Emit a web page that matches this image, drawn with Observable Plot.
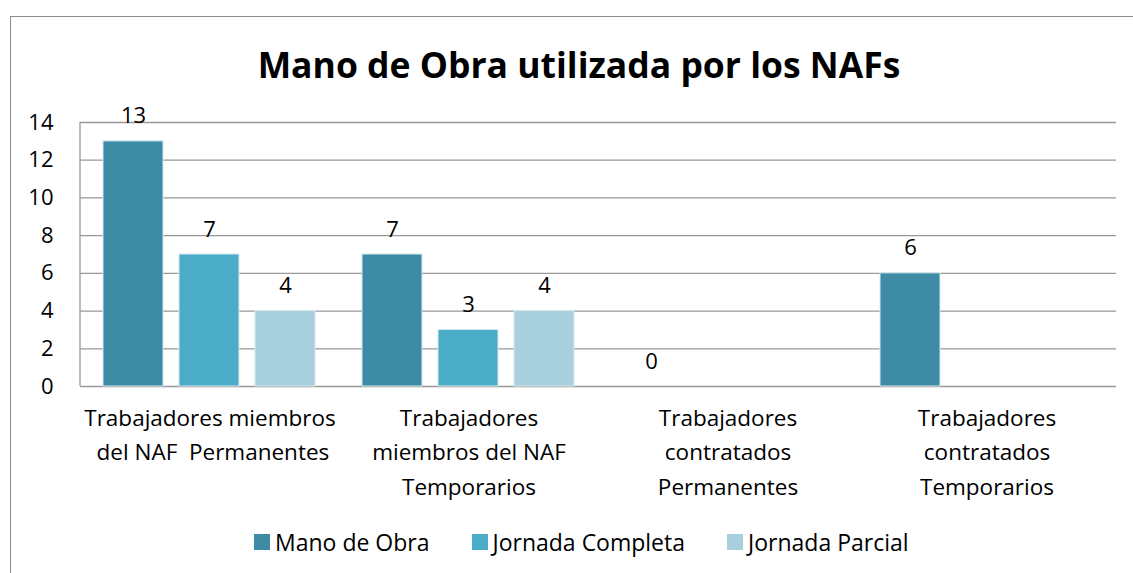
<!DOCTYPE html>
<html>
<head>
<meta charset="utf-8">
<script src="https://cdn.jsdelivr.net/npm/d3@7"></script>
<script src="https://cdn.jsdelivr.net/npm/@observablehq/plot@0.6"></script>
<style>
  html, body { margin: 0; padding: 0; background: #fff; }
  body { width: 1133px; height: 573px; position: relative; overflow: hidden; font-family: "Open Sans", sans-serif; }
  #border { position: absolute; left: 10px; top: 16px; width: 1140px; height: 600px; border: 1px solid #8c8c8c; box-sizing: border-box; }
  #title { position: absolute; left: 0; top: 40px; width: 1158px; text-align: center; font-size: 35.5px; font-weight: bold; color: #000; }
  #chart { position: absolute; left: 0; top: 0; }
  #legend { position: absolute; left: 254px; top: 526px; display: flex; gap: 42px; font-size: 23px; color: #000; }
  #legend .item { display: flex; align-items: center; }
  #legend .sw { width: 16px; height: 16px; margin-right: 5px; }
</style>
</head>
<body>
<div id="border"></div>
<div id="title">Mano de Obra utilizada por los NAFs</div>
<div id="chart"></div>
<div id="legend"></div>
<script>
const categorias = [
  "Trabajadores miembros\n del NAF  Permanentes",
  "Trabajadores\nmiembros del NAF\nTemporarios",
  "Trabajadores\ncontratados\nPermanentes",
  "Trabajadores\ncontratados\nTemporarios"
];
const series = ["Mano de Obra", "Jornada Completa", "Jornada Parcial"];
const manoDeObra = [13, 7, 0, 6];
const jornadaCompleta = [7, 3, null, null];
const jornadaParcial = [4, 4, null, null];
const colores = ["#3d8ba4", "#4aacc6", "#a8cfde"];
const yTicks = [0, 2, 4, 6, 8, 10, 12, 14];

const valores = [manoDeObra, jornadaCompleta, jornadaParcial];
const rows = [];
categorias.forEach((c, i) => {
  series.forEach((s, j) => {
    const v = valores[j][i];
    if (v !== null) rows.push({categoria: c, serie: s, valor: v});
  });
});

const chart = Plot.plot({
  width: 1133,
  height: 520,
  marginTop: 122,
  marginBottom: 134,
  marginLeft: 80,
  marginRight: 17,
  style: {fontFamily: "Open Sans, sans-serif", fontSize: "20px", color: "#000", background: "transparent"},
  fx: {domain: categorias, padding: 0, label: null},
  x: {domain: series, paddingInner: 0.21, paddingOuter: 0.3, axis: null},
  y: {domain: [0, 14], label: null},
  color: {domain: series, range: colores},
  marks: [
    Plot.gridY(yTicks, {stroke: "#999", strokeOpacity: 1, strokeWidth: 1.3}),
    Plot.axisY(yTicks, {tickSize: 0, tickPadding: 27, fontSize: 22, label: null}),
    Plot.axisFx({anchor: "bottom", tickSize: 0, tickPadding: 15, fontSize: 22.5, lineHeight: 1.53, label: null}),
    Plot.barY(rows, {fx: "categoria", x: "serie", y: "valor", fill: "serie", stroke: "#d6eaf0", strokeWidth: 1}),
    Plot.text(rows, {fx: "categoria", x: "serie", y: "valor", text: d => String(d.valor), lineAnchor: "bottom", dy: -18, fontSize: 22, fill: "#000"})
  ]
});
document.getElementById("chart").appendChild(chart);

// left axis line derived from the library's scales
const fx = chart.scale("fx"), y = chart.scale("y");
const svg = d3.select(chart);
svg.append("line")
  .attr("x1", fx.range[0]).attr("x2", fx.range[0])
  .attr("y1", y.apply(0)).attr("y2", y.apply(14))
  .attr("stroke", "#999").attr("stroke-width", 1.3);

const legend = d3.select("#legend");
series.forEach((s, i) => {
  const it = legend.append("div").attr("class", "item");
  it.append("div").attr("class", "sw").style("background", colores[i]);
  it.append("span").text(s);
});
</script>
</body>
</html>
